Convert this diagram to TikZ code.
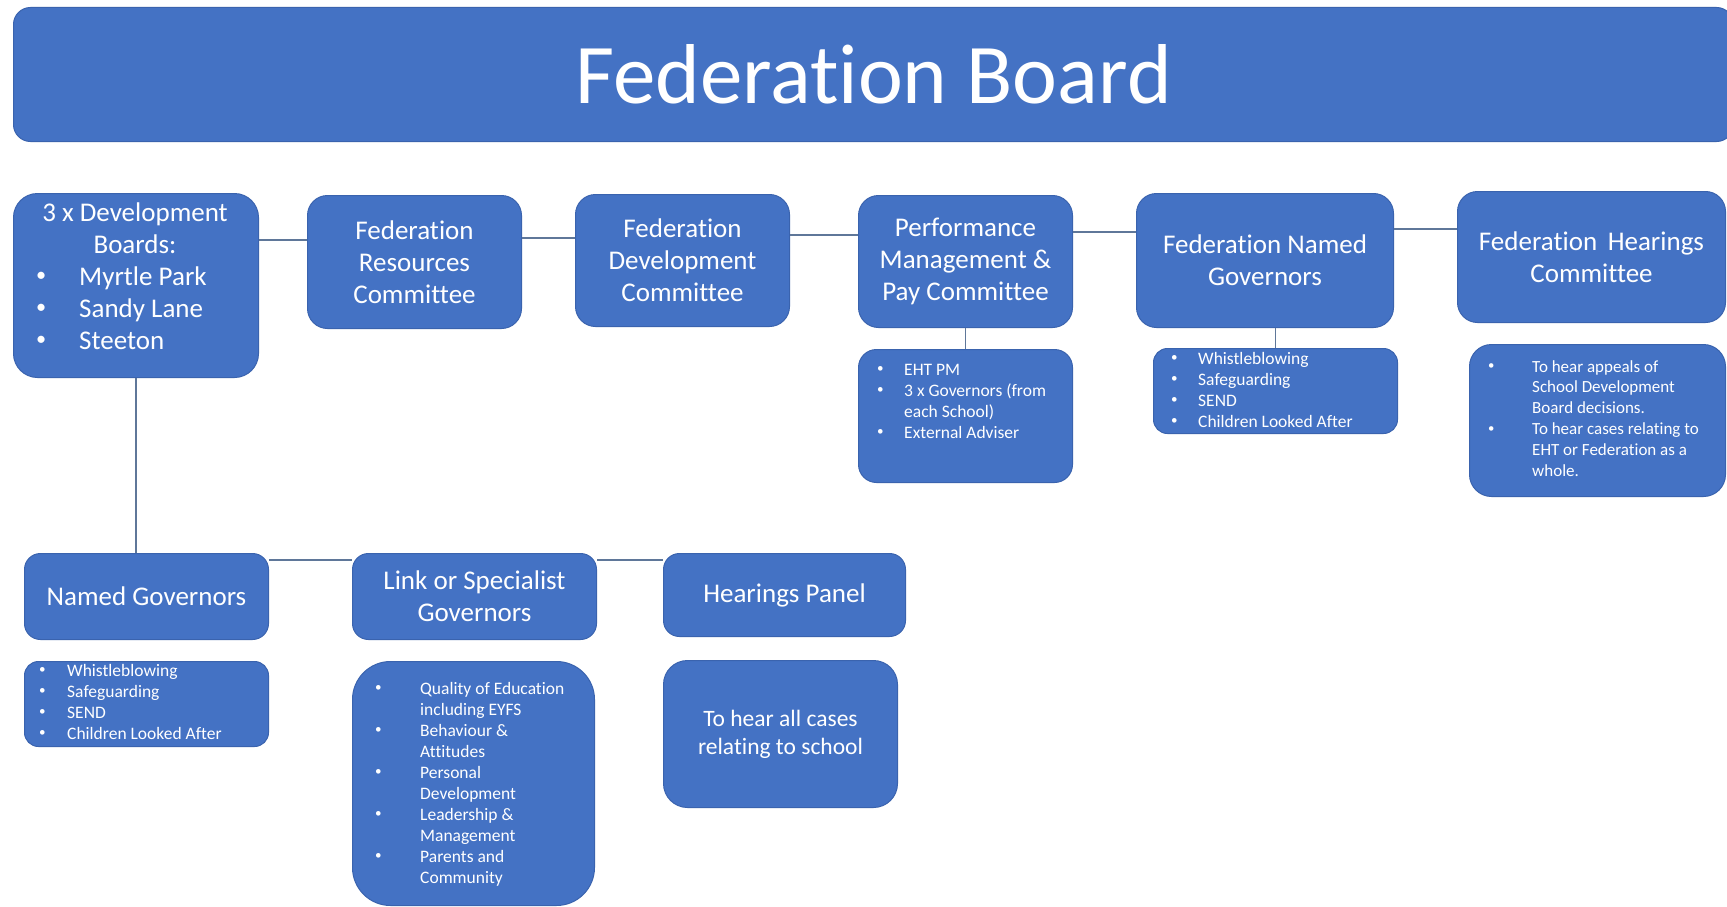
\documentclass[tikz,border=0pt]{standalone}
\usepackage{fontspec}
\setmainfont[Ligatures=NoCommon]{Carlito}
\definecolor{fedblue}{HTML}{4472C4}
\definecolor{fededge}{HTML}{3A63AE}
\definecolor{fedline}{HTML}{5F7799}
% heading, list and panel type sizes
\newcommand{\hfs}{\fontsize{27}{32}\selectfont}
\newcommand{\sfs}{\fontsize{17.5}{21}\selectfont}
\newcommand{\pfs}{\fontsize{23.5}{28}\selectfont}
% bullet item: a small bullet in a box of the given width, then the text
\newcommand{\bi}[1]{\makebox[#1][l]{\raisebox{0.12em}{\scalebox{0.75}{\textbullet}}}}
\begin{document}
\begin{tikzpicture}[x=1pt,y=-1pt,
  box/.style={draw=fededge, line width=1pt, fill=fedblue, text=white,
    inner sep=0pt, align=center, font=\hfs, rounded corners=#1, anchor=north west},
  box/.default=20pt,
  listtext/.style={text=white, inner sep=0pt, anchor=base west},
  link/.style={draw=fedline, line width=1.6pt}]
\useasboundingbox (0,0) rectangle (1727,907);
\clip (0,0) rectangle (1727,907);
\fill[white] (0,0) rectangle (1727,907);

% board banner
\node[box=17pt, minimum width=1720, minimum height=134,
  font=\fontsize{85}{100}\selectfont] (fb) at (13,7) {Federation Board};

% top row of committees
\node[box=24pt, minimum width=245, minimum height=184] (b1) at (13,193) {};
\node[box, minimum width=214, minimum height=133] (b2) at (307,195)
  {Federation\\Resources\\Committee};
\node[box, minimum width=214, minimum height=132] (b3) at (575,194)
  {Federation\\Development\\Committee};
\node[box, minimum width=214, minimum height=132] (b4) at (858,195)
  {Performance\\Management \&\\Pay Committee};
\node[box, minimum width=257, minimum height=134] (b5) at (1136,193)
  {Federation Named\\Governors};
\node[box, minimum width=268, minimum height=131] (b6) at (1457,191)
  {Federation\, Hearings\\Committee};

% text of the development boards box
\node[text=white, inner sep=0pt, anchor=base, font=\hfs] (b1t) at (135,221)
  {\begin{tabular}[t]{@{}c@{}}3 x Development\\Boards:\end{tabular}};
\node[listtext, font=\hfs] (b1l) at (36,285)
  {\begin{tabular}[t]{@{}l@{}}\bi{43pt}Myrtle Park\\\bi{43pt}Sandy Lane\\\bi{43pt}Steeton\end{tabular}};

% detail boxes under the top row
\node[box=18pt, minimum width=214, minimum height=133] (s4) at (858,349) {};
\node[box=14pt, minimum width=244, minimum height=85] (s5) at (1153,348) {};
\node[box=22pt, minimum width=256, minimum height=152] (s6) at (1469,344) {};

\node[listtext, font=\sfs] (s4t) at (877,375)
  {\begin{tabular}[t]{@{}l@{}}\bi{27pt}EHT PM\\\bi{27pt}3 x Governors (from\\\hspace*{27pt}each School)\\\bi{27pt}External Adviser\end{tabular}};
\node[listtext, font=\sfs] (s5t) at (1171,364)
  {\begin{tabular}[t]{@{}l@{}}\bi{27pt}Whistleblowing\\\bi{27pt}Safeguarding\\\bi{27pt}SEND\\\bi{27pt}Children Looked After\end{tabular}};
\node[listtext, font=\fontsize{17}{20.8}\selectfont] (s6t) at (1488,372)
  {\begin{tabular}[t]{@{}l@{}}\bi{44pt}To hear appeals of\\\hspace*{44pt}School Development\\\hspace*{44pt}Board decisions.\\\bi{44pt}To hear cases relating to\\\hspace*{44pt}EHT or Federation as a\\\hspace*{44pt}whole.\end{tabular}};

% bottom row
\node[box=16pt, minimum width=244, minimum height=86] (ng) at (24,553) {Named Governors};
\node[box=16pt, minimum width=244, minimum height=86] (lk) at (352,553) {Link or Specialist\\Governors};
\node[box=16pt, minimum width=242, minimum height=83] (hp) at (663,553) {Hearings Panel};

\node[box=14pt, minimum width=244, minimum height=85] (ngs) at (24,661) {};
\node[box=38pt, minimum width=242, minimum height=244] (lks) at (352,661) {};
\node[box=24pt, minimum width=234, minimum height=147, font=\pfs] (hps) at (663,660)
  {To hear all cases\\relating to school};

\node[listtext, font=\sfs] (ngst) at (39,676)
  {\begin{tabular}[t]{@{}l@{}}\bi{28pt}Whistleblowing\\\bi{28pt}Safeguarding\\\bi{28pt}SEND\\\bi{28pt}Children Looked After\end{tabular}};
\node[listtext, font=\sfs] (lkst) at (375,694)
  {\begin{tabular}[t]{@{}l@{}}\bi{45pt}Quality of Education\\\hspace*{45pt}including EYFS\\\bi{45pt}Behaviour \&\\\hspace*{45pt}Attitudes\\\bi{45pt}Personal\\\hspace*{45pt}Development\\\bi{45pt}Leadership \&\\\hspace*{45pt}Management\\\bi{45pt}Parents and\\\hspace*{45pt}Community\end{tabular}};

% connectors
\draw[link] (b1.east |- 0,240) -- (b2.west |- 0,240);
\draw[link] (b2.east |- 0,238) -- (b3.west |- 0,238);
\draw[link] (b3.east |- 0,235) -- (b4.west |- 0,235);
\draw[link] (b4.east |- 0,232) -- (b5.west |- 0,232);
\draw[link] (b5.east |- 0,229) -- (b6.west |- 0,229);
\draw[link] (b4.south) -- (s4.north);
\draw[link] (s5.north) -- (s5.north |- b5.south);
\draw[link] (b1.south) -- (b1.south |- ng.north);
\draw[link] (ng.east |- 0,560) -- (lk.west |- 0,560);
\draw[link] (lk.east |- 0,560) -- (hp.west |- 0,560);
\end{tikzpicture}
\end{document}
